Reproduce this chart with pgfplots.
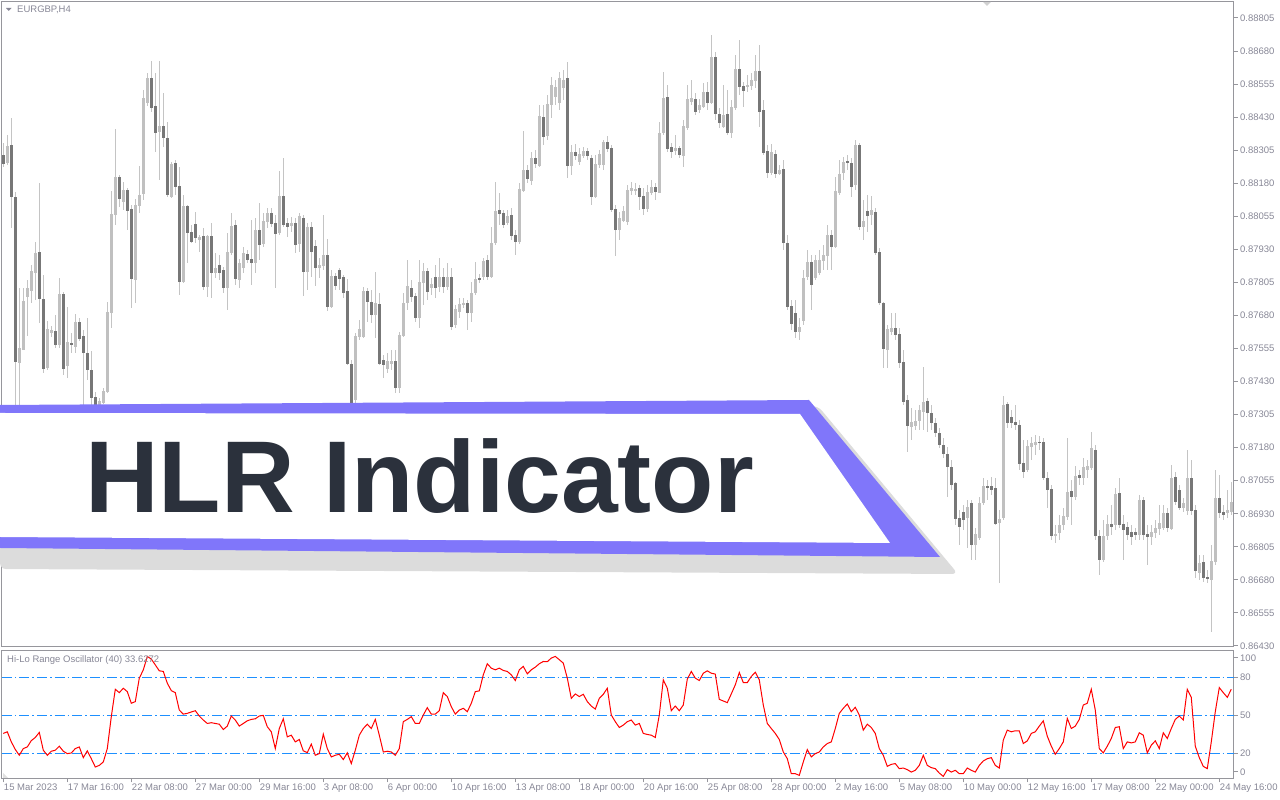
\documentclass[border=0pt]{standalone}
\usepackage{pgfplots}
\pgfplotsset{compat=1.18}
\usepackage{pgfplotstable}
\usepackage{fontspec}
\setmainfont{Liberation Sans}
\definecolor{framec}{RGB}{150,150,156}
\definecolor{labelc}{RGB}{135,135,150}
\definecolor{bullc}{RGB}{192,192,192}
\definecolor{bearc}{RGB}{119,119,119}
\definecolor{wickc}{RGB}{196,196,196}
\definecolor{levelc}{RGB}{30,144,255}
\definecolor{bannerc}{RGB}{128,118,250}
\definecolor{shadowc}{RGB}{220,220,220}
\definecolor{titlec}{RGB}{43,49,60}
\tikzset{lbl/.style={font=\fontsize{9.5pt}{11pt}\selectfont, text=labelc}}
\pgfplotstableread{
i O H L C d
0 0.88287 0.88333 0.88242 0.88257 0
1 0.88257 0.88363 0.88249 0.88321 1
2 0.88325 0.88427 0.88011 0.88129 0
3 0.88129 0.88147 0.87342 0.87504 0
4 0.87504 0.87785 0.87323 0.87558 1
5 0.87554 0.87785 0.87550 0.87735 1
6 0.87751 0.87815 0.87600 0.87781 1
7 0.87777 0.87871 0.87728 0.87848 1
8 0.87844 0.87958 0.87739 0.87917 1
9 0.87917 0.88182 0.87652 0.87743 0
10 0.87743 0.87833 0.87463 0.87482 0
11 0.87482 0.87659 0.87474 0.87629 1
12 0.87618 0.87644 0.87600 0.87626 1
13 0.87622 0.87682 0.87558 0.87569 0
14 0.87569 0.87822 0.87558 0.87762 1
15 0.87762 0.87769 0.87455 0.87482 0
16 0.87489 0.87713 0.87444 0.87580 1
17 0.87577 0.87615 0.87539 0.87569 0
18 0.87562 0.87686 0.87539 0.87655 1
19 0.87655 0.87671 0.87584 0.87592 0
20 0.87600 0.87626 0.87285 0.87539 0
21 0.87539 0.87671 0.87437 0.87474 0
22 0.87474 0.87546 0.87335 0.87369 0
23 0.87369 0.87391 0.87323 0.87342 0
24 0.87342 0.87369 0.87327 0.87357 1
25 0.87353 0.87407 0.87346 0.87395 1
26 0.87391 0.87731 0.87388 0.87693 1
27 0.87693 0.88151 0.87633 0.88064 1
28 0.88060 0.88385 0.88022 0.88204 1
29 0.88204 0.88211 0.88091 0.88121 0
30 0.88109 0.88185 0.88079 0.88155 1
31 0.88155 0.88163 0.88004 0.88075 0
32 0.88083 0.88098 0.87709 0.87818 0
33 0.87815 0.88121 0.87728 0.88098 1
34 0.88094 0.88245 0.88068 0.88136 1
35 0.88144 0.88533 0.88117 0.88503 1
36 0.88487 0.88597 0.88472 0.88578 1
37 0.88578 0.88642 0.88449 0.88469 0
38 0.88472 0.88597 0.88298 0.88374 0
39 0.88374 0.88642 0.88193 0.88396 1
40 0.88396 0.88522 0.88318 0.88352 0
41 0.88352 0.88415 0.88129 0.88136 0
42 0.88132 0.88260 0.88125 0.88253 1
43 0.88257 0.88268 0.88136 0.88167 0
44 0.88170 0.88242 0.87758 0.87807 0
45 0.87807 0.88136 0.87804 0.88091 1
46 0.88091 0.88098 0.87879 0.87993 0
47 0.87993 0.88022 0.87955 0.87958 0
48 0.88026 0.88071 0.87955 0.87974 0
49 0.87966 0.87985 0.87920 0.87974 1
50 0.87978 0.88011 0.87777 0.87789 0
51 0.87789 0.87985 0.87751 0.87978 1
52 0.87978 0.88030 0.87747 0.87841 0
53 0.87841 0.87917 0.87822 0.87860 1
54 0.87871 0.87909 0.87815 0.87844 0
55 0.87852 0.87864 0.87766 0.87785 0
56 0.87785 0.87993 0.87701 0.87920 1
57 0.87920 0.88068 0.87909 0.88018 1
58 0.88022 0.88041 0.87796 0.87822 0
59 0.87815 0.87894 0.87785 0.87879 1
60 0.87860 0.87940 0.87841 0.87917 1
61 0.87913 0.87928 0.87879 0.87890 0
62 0.87894 0.88041 0.87796 0.87879 0
63 0.87879 0.88049 0.87841 0.88004 1
64 0.88004 0.88106 0.87890 0.87951 0
65 0.87951 0.88068 0.87940 0.88037 1
66 0.88037 0.88087 0.88011 0.88068 1
67 0.88068 0.88087 0.88015 0.88030 0
68 0.88030 0.88060 0.87785 0.87989 0
69 0.87993 0.88226 0.87985 0.88132 1
70 0.88132 0.88276 0.88015 0.88026 0
71 0.88030 0.88049 0.87978 0.88018 0
72 0.88022 0.88053 0.87996 0.88030 1
73 0.88030 0.88049 0.87917 0.87947 0
74 0.87951 0.88068 0.87920 0.88053 1
75 0.88049 0.88060 0.87754 0.87848 0
76 0.87848 0.88030 0.87777 0.88015 1
77 0.88015 0.88033 0.87826 0.87924 0
78 0.87940 0.87966 0.87792 0.87860 0
79 0.87860 0.87898 0.87822 0.87871 1
80 0.87867 0.88060 0.87852 0.87909 1
81 0.87909 0.87970 0.87697 0.87713 0
82 0.87713 0.87852 0.87709 0.87829 1
83 0.87829 0.87841 0.87777 0.87792 0
84 0.87852 0.87860 0.87777 0.87822 0
85 0.87826 0.87833 0.87747 0.87769 0
86 0.87773 0.87818 0.87493 0.87497 0
87 0.87497 0.87512 0.87315 0.87342 0
88 0.87361 0.87615 0.87342 0.87600 1
89 0.87600 0.87663 0.87588 0.87629 1
90 0.87600 0.87789 0.87596 0.87773 1
91 0.87773 0.87785 0.87655 0.87731 0
92 0.87731 0.87777 0.87652 0.87682 0
93 0.87682 0.87844 0.87596 0.87724 1
94 0.87724 0.87766 0.87493 0.87497 0
95 0.87512 0.87531 0.87444 0.87497 0
96 0.87478 0.87539 0.87463 0.87508 1
97 0.87501 0.87550 0.87474 0.87508 1
98 0.87508 0.87550 0.87388 0.87407 0
99 0.87407 0.87618 0.87388 0.87603 1
100 0.87603 0.87766 0.87600 0.87728 1
101 0.87728 0.87890 0.87701 0.87789 1
102 0.87781 0.87815 0.87731 0.87751 0
103 0.87754 0.87766 0.87655 0.87671 0
104 0.87671 0.87890 0.87633 0.87804 1
105 0.87804 0.87879 0.87720 0.87848 1
106 0.87848 0.87860 0.87739 0.87769 0
107 0.87785 0.87822 0.87758 0.87800 1
108 0.87826 0.87871 0.87747 0.87785 0
109 0.87789 0.87898 0.87769 0.87826 1
110 0.87826 0.87860 0.87766 0.87789 0
111 0.87789 0.87879 0.87777 0.87826 1
112 0.87826 0.87860 0.87626 0.87640 0
113 0.87644 0.87720 0.87633 0.87705 1
114 0.87697 0.87747 0.87671 0.87724 1
115 0.87720 0.87747 0.87709 0.87728 1
116 0.87728 0.87739 0.87626 0.87693 0
117 0.87693 0.87807 0.87655 0.87766 1
118 0.87766 0.87882 0.87758 0.87818 1
119 0.87822 0.87837 0.87804 0.87818 0
120 0.87826 0.87898 0.87815 0.87886 1
121 0.87890 0.87909 0.87815 0.87829 0
122 0.87829 0.88015 0.87822 0.87955 1
123 0.87955 0.88185 0.87947 0.88075 1
124 0.88079 0.88144 0.88022 0.88068 0
125 0.88068 0.88079 0.88011 0.88026 0
126 0.88033 0.88079 0.88022 0.88056 1
127 0.88060 0.88087 0.87966 0.87981 0
128 0.87985 0.88004 0.87909 0.87958 0
129 0.87958 0.88182 0.87951 0.88159 1
130 0.88151 0.88378 0.88147 0.88230 1
131 0.88230 0.88249 0.88182 0.88196 0
132 0.88189 0.88298 0.88174 0.88276 1
133 0.88276 0.88306 0.88238 0.88253 0
134 0.88249 0.88476 0.88242 0.88434 1
135 0.88431 0.88476 0.88325 0.88359 0
136 0.88359 0.88514 0.88344 0.88480 1
137 0.88480 0.88582 0.88427 0.88552 1
138 0.88507 0.88571 0.88476 0.88541 1
139 0.88484 0.88600 0.88457 0.88578 1
140 0.88541 0.88608 0.88495 0.88571 1
141 0.88578 0.88638 0.88200 0.88249 0
142 0.88249 0.88325 0.88211 0.88298 1
143 0.88298 0.88329 0.88268 0.88283 0
144 0.88264 0.88314 0.88249 0.88291 1
145 0.88283 0.88318 0.88276 0.88302 1
146 0.88302 0.88314 0.88268 0.88283 0
147 0.88276 0.88287 0.88098 0.88132 0
148 0.88132 0.88287 0.88125 0.88253 1
149 0.88253 0.88306 0.88238 0.88291 1
150 0.88253 0.88344 0.88230 0.88336 1
151 0.88336 0.88359 0.88298 0.88310 0
152 0.88314 0.88325 0.88071 0.88083 0
153 0.88083 0.88098 0.87905 0.88004 0
154 0.88004 0.88071 0.87966 0.88049 1
155 0.88041 0.88094 0.88033 0.88075 1
156 0.88037 0.88174 0.88022 0.88155 1
157 0.88151 0.88185 0.88136 0.88159 1
158 0.88155 0.88182 0.88136 0.88159 1
159 0.88159 0.88174 0.88079 0.88129 0
160 0.88132 0.88163 0.88060 0.88083 0
161 0.88083 0.88174 0.88071 0.88147 1
162 0.88147 0.88193 0.88136 0.88167 1
163 0.88163 0.88182 0.88117 0.88147 0
164 0.88147 0.88411 0.88144 0.88371 1
165 0.88371 0.88600 0.88363 0.88503 1
166 0.88507 0.88552 0.88298 0.88310 0
167 0.88314 0.88333 0.88276 0.88298 0
168 0.88306 0.88363 0.88287 0.88314 1
169 0.88314 0.88321 0.88276 0.88291 0
170 0.88283 0.88419 0.88242 0.88396 1
171 0.88393 0.88552 0.88382 0.88499 1
172 0.88487 0.88571 0.88476 0.88503 1
173 0.88499 0.88522 0.88438 0.88453 0
174 0.88457 0.88499 0.88446 0.88476 1
175 0.88472 0.88560 0.88465 0.88525 1
176 0.88525 0.88563 0.88457 0.88484 0
177 0.88484 0.88741 0.88480 0.88658 1
178 0.88658 0.88676 0.88419 0.88446 0
179 0.88442 0.88465 0.88389 0.88411 0
180 0.88396 0.88552 0.88389 0.88438 1
181 0.88442 0.88533 0.88363 0.88371 0
182 0.88371 0.88495 0.88352 0.88469 1
183 0.88469 0.88665 0.88457 0.88612 1
184 0.88612 0.88722 0.88514 0.88548 0
185 0.88548 0.88563 0.88469 0.88529 0
186 0.88545 0.88589 0.88525 0.88552 1
187 0.88548 0.88600 0.88533 0.88571 1
188 0.88567 0.88665 0.88541 0.88604 1
189 0.88604 0.88703 0.88396 0.88453 0
190 0.88457 0.88495 0.88287 0.88295 0
191 0.88302 0.88325 0.88200 0.88219 0
192 0.88219 0.88329 0.88211 0.88295 1
193 0.88291 0.88306 0.88200 0.88219 0
194 0.88219 0.88249 0.88211 0.88230 1
195 0.88234 0.88268 0.87928 0.87955 0
196 0.87955 0.87985 0.87701 0.87713 0
197 0.87716 0.87739 0.87626 0.87648 0
198 0.87690 0.87739 0.87596 0.87618 0
199 0.87618 0.87671 0.87588 0.87637 1
200 0.87663 0.87852 0.87644 0.87822 1
201 0.87826 0.87928 0.87815 0.87882 1
202 0.87882 0.87909 0.87701 0.87796 0
203 0.87822 0.87909 0.87815 0.87890 1
204 0.87844 0.87928 0.87833 0.87890 1
205 0.87890 0.87947 0.87852 0.87909 1
206 0.87909 0.88022 0.87852 0.87985 1
207 0.87985 0.88004 0.87852 0.87940 0
208 0.87940 0.88204 0.87936 0.88151 1
209 0.88147 0.88268 0.88136 0.88215 1
210 0.88219 0.88280 0.88193 0.88260 1
211 0.88264 0.88287 0.88230 0.88257 0
212 0.88257 0.88276 0.88129 0.88167 0
213 0.88174 0.88344 0.88155 0.88325 1
214 0.88325 0.88333 0.88004 0.88018 0
215 0.88018 0.88117 0.87966 0.88037 1
216 0.88075 0.88136 0.87996 0.88060 0
217 0.88064 0.88132 0.88022 0.88079 1
218 0.88071 0.88087 0.87909 0.87920 0
219 0.87920 0.87936 0.87720 0.87728 0
220 0.87728 0.87731 0.87482 0.87554 0
221 0.87554 0.87644 0.87482 0.87629 1
222 0.87618 0.87690 0.87607 0.87633 1
223 0.87633 0.87690 0.87588 0.87607 0
224 0.87611 0.87633 0.87482 0.87501 0
225 0.87501 0.87550 0.87342 0.87353 0
226 0.87361 0.87380 0.87164 0.87262 0
227 0.87262 0.87331 0.87210 0.87277 1
228 0.87262 0.87323 0.87248 0.87281 1
229 0.87281 0.87342 0.87248 0.87323 1
230 0.87315 0.87486 0.87248 0.87353 1
231 0.87357 0.87369 0.87240 0.87312 0
232 0.87312 0.87342 0.87248 0.87274 0
233 0.87274 0.87293 0.87222 0.87237 0
234 0.87237 0.87255 0.87180 0.87191 0
235 0.87191 0.87218 0.87142 0.87157 0
236 0.87157 0.87184 0.86995 0.87108 0
237 0.87108 0.87134 0.87021 0.87040 0
238 0.87044 0.87051 0.86888 0.86911 0
239 0.86911 0.86945 0.86813 0.86881 0
240 0.86937 0.86964 0.86870 0.86907 0
241 0.86915 0.86983 0.86802 0.86953 1
242 0.86972 0.86983 0.86756 0.86813 0
243 0.86813 0.86877 0.86756 0.86851 1
244 0.86843 0.86995 0.86832 0.86972 1
245 0.86972 0.87066 0.86964 0.87036 1
246 0.87036 0.87059 0.86983 0.87029 0
247 0.87033 0.87070 0.87002 0.87021 0
248 0.87029 0.87066 0.86888 0.86896 0
249 0.86896 0.86945 0.86670 0.86911 1
250 0.86915 0.87376 0.86907 0.87342 1
251 0.87342 0.87353 0.87255 0.87274 0
252 0.87296 0.87323 0.87255 0.87274 0
253 0.87277 0.87342 0.87248 0.87266 0
254 0.87266 0.87285 0.87096 0.87119 0
255 0.87123 0.87210 0.87066 0.87092 0
256 0.87096 0.87210 0.87089 0.87184 1
257 0.87184 0.87222 0.87134 0.87199 1
258 0.87191 0.87229 0.87153 0.87202 1
259 0.87202 0.87225 0.87172 0.87199 0
260 0.87199 0.87218 0.87059 0.87066 0
261 0.87066 0.87089 0.86953 0.87021 0
262 0.87021 0.87040 0.86832 0.86847 0
263 0.86847 0.86888 0.86821 0.86855 1
264 0.86859 0.86926 0.86832 0.86888 1
265 0.86888 0.86953 0.86870 0.86919 1
266 0.86919 0.87218 0.86907 0.87010 1
267 0.87014 0.87059 0.86888 0.86995 0
268 0.86995 0.87111 0.86983 0.87074 1
269 0.87074 0.87096 0.87040 0.87066 0
270 0.87066 0.87142 0.87040 0.87104 1
271 0.87096 0.87134 0.87066 0.87108 1
272 0.87104 0.87240 0.87096 0.87176 1
273 0.87172 0.87191 0.86832 0.86847 0
274 0.86847 0.86870 0.86699 0.86756 0
275 0.86756 0.86907 0.86748 0.86847 1
276 0.86847 0.86926 0.86832 0.86892 1
277 0.86892 0.86964 0.86851 0.86881 0
278 0.86888 0.87029 0.86870 0.87006 1
279 0.87010 0.87066 0.86877 0.86888 0
280 0.86892 0.86926 0.86756 0.86870 0
281 0.86877 0.86900 0.86832 0.86851 0
282 0.86862 0.86888 0.86813 0.86843 0
283 0.86859 0.86877 0.86832 0.86851 0
284 0.86851 0.87002 0.86832 0.86983 1
285 0.86983 0.86995 0.86832 0.86851 0
286 0.86855 0.86888 0.86737 0.86843 0
287 0.86843 0.86888 0.86813 0.86859 1
288 0.86859 0.86907 0.86840 0.86877 1
289 0.86877 0.86964 0.86851 0.86896 1
290 0.86877 0.86964 0.86870 0.86934 1
291 0.86934 0.86953 0.86862 0.86877 0
292 0.86877 0.87115 0.86870 0.87066 1
293 0.87070 0.87089 0.86964 0.86975 0
294 0.87021 0.87040 0.86945 0.86956 0
295 0.86956 0.86991 0.86937 0.86972 1
296 0.86945 0.87172 0.86926 0.87066 1
297 0.87066 0.87134 0.86926 0.86945 0
298 0.86945 0.86964 0.86688 0.86718 0
299 0.86710 0.86775 0.86681 0.86745 1
300 0.86745 0.86775 0.86673 0.86688 0
301 0.86692 0.86718 0.86670 0.86684 0
302 0.86681 0.86813 0.86484 0.86752 1
303 0.86748 0.87096 0.86737 0.86987 1
304 0.86987 0.87077 0.86915 0.86934 0
305 0.86934 0.86964 0.86907 0.86926 0
306 0.86937 0.87021 0.86915 0.86945 1
307 0.86937 0.87051 0.86926 0.86972 1
}\candles
\begin{document}
\begin{tikzpicture}[x=1pt,y=1pt]
\useasboundingbox (0,0) rectangle (1280,800);
\begin{axis}[
  at={(2pt,153pt)}, anchor=south west, scale only axis, width=1232pt, height=645pt,
  xmin=-0.325, xmax=307.675, ymin=0.864262, ymax=0.888655,
  axis line style={draw=framec, line width=1pt},
  xtick=\empty,
  ytick={0.86430,0.86555,0.86680,0.86805,0.86930,0.87055,0.87180,0.87305,0.87430,0.87555,0.87680,0.87805,0.87930,0.88055,0.88180,0.88305,0.88430,0.88555,0.88680,0.88805},
  yticklabels={0.86430,0.86555,0.86680,0.86805,0.86930,0.87055,0.87180,0.87305,0.87430,0.87555,0.87680,0.87805,0.87930,0.88055,0.88180,0.88305,0.88430,0.88555,0.88680,0.88805},
  ytick pos=right, yticklabel pos=right,
  tick align=outside, major tick length=4pt,
  tick style={draw=framec, line width=1pt},
  yticklabel style={lbl, anchor=west, inner sep=0pt, xshift=2pt},
  /pgf/number format/assume math mode=true,
]
\addplot[draw=none, mark=none, forget plot, error bars/.cd, y dir=both, y explicit, error mark=none, error bar style={draw=wickc, line width=1pt}]
  table[x=i, y expr={(\thisrow{H}+\thisrow{L})/2}, y error expr={(\thisrow{H}-\thisrow{L})/2}] {\candles};
\addplot[draw=none, mark=none, forget plot, error bars/.cd, y dir=both, y explicit, error mark=none, error bar style={draw=bullc, line width=3pt}]
  table[x=i, y expr={(\thisrow{O}+\thisrow{C})/2}, y error expr={\thisrow{d}*(abs(\thisrow{C}-\thisrow{O})/2+0.000013)}] {\candles};
\addplot[draw=none, mark=none, forget plot, error bars/.cd, y dir=both, y explicit, error mark=none, error bar style={draw=bearc, line width=3pt}]
  table[x=i, y expr={(\thisrow{O}+\thisrow{C})/2}, y error expr={(1-\thisrow{d})*(abs(\thisrow{C}-\thisrow{O})/2+0.000013)}] {\candles};
\end{axis}
\begin{axis}[
  at={(2pt,21.5pt)}, anchor=south west, scale only axis, width=1232pt, height=127.5pt,
  xmin=-0.325, xmax=307.675, ymin=0, ymax=101,
  axis line style={draw=framec, line width=1pt},
  xtick={0,16,32,48,64,80,96,112,128,144,160,176,192,208,224,240,256,272,288,304},
  xticklabels={15 Mar 2023,17 Mar 16:00,22 Mar 08:00,27 Mar 00:00,29 Mar 16:00,3 Apr 08:00,6 Apr 00:00,10 Apr 16:00,13 Apr 08:00,18 Apr 00:00,20 Apr 16:00,25 Apr 08:00,28 Apr 00:00,2 May 16:00,5 May 08:00,10 May 00:00,12 May 16:00,17 May 08:00,22 May 00:00,24 May 16:00},
  ytick={5.2,20,50,80,95.5},
  yticklabels={0,20,50,80,100},
  xtick pos=left, ytick pos=right, yticklabel pos=right,
  tick align=outside, major tick length=4pt,
  tick style={draw=framec, line width=1pt},
  xticklabel style={lbl, anchor=north west, inner sep=0pt, xshift=0.5pt, yshift=-1.5pt},
  yticklabel style={lbl, anchor=west, inner sep=0pt, xshift=2pt},
  /pgf/number format/assume math mode=true,
]
\addplot[draw=levelc, color=levelc, line width=1pt, mark=none, dash pattern=on 10pt off 3pt on 1.5pt off 3pt] coordinates {(-0.325,20) (307.675,20)};
\addplot[draw=levelc, color=levelc, line width=1pt, mark=none, dash pattern=on 10pt off 3pt on 1.5pt off 3pt] coordinates {(-0.325,50) (307.675,50)};
\addplot[draw=levelc, color=levelc, line width=1pt, mark=none, dash pattern=on 10pt off 3pt on 1.5pt off 3pt] coordinates {(-0.325,80) (307.675,80)};
\addplot[red, line width=1pt, mark=none] coordinates {
(0,35.7) (1,37) (2,29) (3,23) (4,18.4) (5,23.7) (6,25) (7,30) (8,32.5) (9,36.5) (10,22.4) (11,18.4) (12,21.6) (13,22.4) (14,25.6) (15,21.6) (16,19.7) (17,20.2) (18,23.7) (19,25) (20,16.5) (21,21.9) (22,15.7) (23,9.1) (24,10.4) (25,13.1) (26,23.7) (27,49) (28,70.7) (29,68) (30,71.5) (31,68.8) (32,59.6) (33,60.9) (34,79.5) (35,86) (36,96.7) (37,94.6) (38,90) (39,85.3) (40,84.8) (41,75.5) (42,69.6) (43,68) (44,54.2) (45,51) (46,51.6) (47,52.7) (48,53.7) (49,49.5) (50,46.3) (51,43.6) (52,44.2) (53,43.6) (54,43) (55,38.8) (56,41.5) (57,49.5) (58,46.3) (59,41.5) (60,43.6) (61,45.7) (62,46.8) (63,47.3) (64,49.5) (65,50) (66,41) (67,37) (68,23.7) (69,39.6) (70,47.3) (71,33) (72,34.3) (73,29) (74,30.9) (75,21.9) (76,20.5) (77,27.2) (78,18.4) (79,19.7) (80,35.1) (81,23.7) (82,17.1) (83,18.4) (84,19.2) (85,15) (86,20.3) (87,11.8) (88,22.4) (89,34.3) (90,39.6) (91,43) (92,39.6) (93,46.8) (94,34.3) (95,21) (96,21.6) (97,21) (98,18.4) (99,23.7)
(100,45) (101,46.8) (102,49) (103,43.6) (104,43.6) (105,50.3) (106,56.1) (107,51) (108,51) (109,53.7) (110,68) (111,64.9) (112,56.9) (113,51) (114,54.2) (115,55.6) (116,52.9) (117,59.6) (118,68.8) (119,69.4) (120,82.1) (121,90.9) (122,87.4) (123,86.1) (124,87.4) (125,85.6) (126,84.8) (127,82.1) (128,77.6) (129,86.1) (130,88.8) (131,82.9) (132,86.1) (133,88.2) (134,90.9) (135,92.7) (136,92.5) (137,95.4) (138,96.7) (139,94.1) (140,91.4) (141,79.5) (142,63.5) (143,67) (144,64.9) (145,66.7) (146,60.9) (147,57.4) (148,55) (149,63.5) (150,66.7) (151,71.5) (152,50.3) (153,45) (154,40.4) (155,42.3) (156,45) (157,46.3) (158,42.3) (159,43.6) (160,35.7) (161,34.9) (162,34.3) (163,32.5) (164,50.3) (165,78.1) (166,71.5) (167,53.7) (168,57.4) (169,53.7) (170,58.2) (171,78.7) (172,84.8) (173,79.5) (174,77.6) (175,83.4) (176,85.3) (177,83.4) (178,82.7) (179,62.7) (180,61.4) (181,60.1) (182,67) (183,74.2) (184,84) (185,76) (186,76) (187,80.8) (188,84.2) (189,78.1) (190,58.2) (191,43.6) (192,39.6) (193,35.7) (194,30.9) (195,21) (196,15.7) (197,3.8) (198,3.8) (199,2.5) (200,13.1) (201,22.9) (202,17.1) (203,19.7) (204,21) (205,25) (206,27.7) (207,29) (208,39.6) (209,51.6)
(210,55.6) (211,59) (212,52.9) (213,56.4) (214,50.3) (215,38.3) (216,43) (217,40.4) (218,35.7) (219,23.7) (220,18.4) (221,9.6) (222,11.2) (223,11.8) (224,7.8) (225,8.3) (226,7) (227,5.1) (228,6.5) (229,10.4) (230,18.4) (231,10.4) (232,8.6) (233,7.8) (234,4.3) (235,1.7) (236,7) (237,5.1) (238,6.5) (239,3.8) (240,3.8) (241,8.3) (242,6.5) (243,5.1) (244,10.4) (245,13.9) (246,15.7) (247,16.5) (248,10.4) (249,8.3) (250,30.4) (251,38.3) (252,37) (253,37.8) (254,37.8) (255,27.7) (256,29.8) (257,35.7) (258,37) (259,41.5) (260,45.7) (261,33.5) (262,25.6) (263,19.2) (264,23.7) (265,29) (266,47.6) (267,39.6) (268,41.5) (269,46.8) (270,58.2) (271,59.6) (272,70.7) (273,54.2) (274,23.7) (275,20.3) (276,25.6) (277,31.7) (278,40.4) (279,41) (280,23.7) (281,29) (282,28.2) (283,29) (284,36.2) (285,34.3) (286,20.3) (287,26.4) (288,29.8) (289,23.7) (290,36.2) (291,31.7) (292,39.6) (293,46.8) (294,49.5) (295,46.3) (296,70.7) (297,64.3) (298,25.6) (299,16.5) (300,9.6) (301,7.8) (302,29) (303,52.9) (304,72) (305,68) (306,64.3) (307,70.7)
};
\end{axis}
% header texts
\fill[labelc] (6,792) -- (11.5,792) -- (8.75,789) -- cycle;
\node[lbl, anchor=west, inner sep=0pt] at (17,790) {EURGBP,H4};
\node[lbl, anchor=west, inner sep=0pt] at (7,140) {Hi-Lo Range Oscillator (40) 33.6272};
\fill[black!18] (983,798) -- (991,798) -- (987,794) -- cycle;
\fill[black!12] (3,22) -- (3,27) -- (8,22) -- cycle;
% banner
\fill[shadowc, rounded corners=6pt] (0,388) -- (818,394) -- (958,226) -- (0,231) -- cycle;
\fill[bannerc] (0,395) -- (809,400) -- (940,243) -- (0,252) -- cycle;
\fill[white] (0,387) -- (800,386) -- (890,257) -- (0,263) -- cycle;
\node[anchor=base west, inner sep=0pt, text=titlec, font=\fontsize{102pt}{110pt}\selectfont\bfseries] at (85,287) {HLR Indicator};
\end{tikzpicture}
\end{document}
